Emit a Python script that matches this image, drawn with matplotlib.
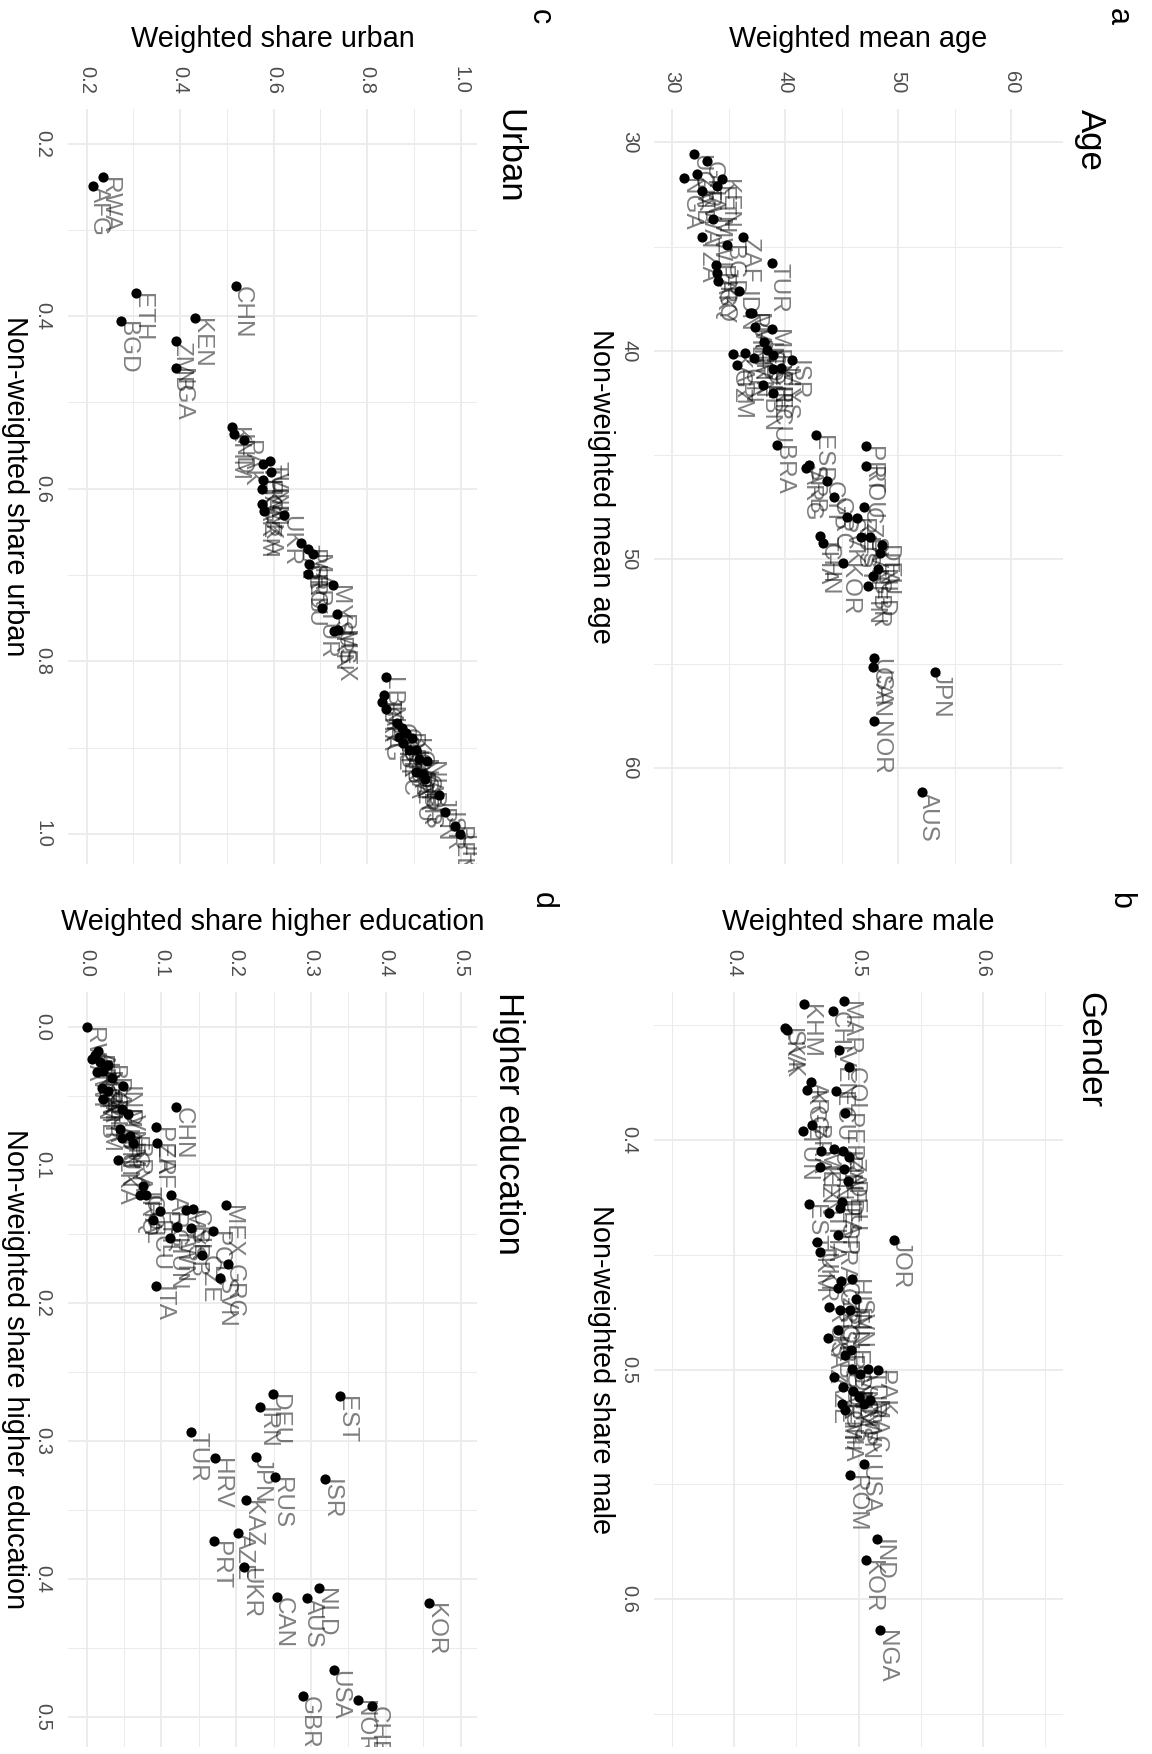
import numpy as np
import matplotlib
matplotlib.use("Agg")
import matplotlib.pyplot as plt
from matplotlib import ticker

plt.rcParams['font.family'] = ['Liberation Sans', 'DejaVu Sans']

# ---- data (weighted = horizontal, non-weighted = vertical)
age_codes = ['UGA', 'GHA', 'NGA', 'ZMB', 'KEN', 'ETH', 'RWA', 'MWI', 'TZA', 'ZAF',
             'BGD', 'PAK', 'EGY', 'IRQ', 'IDN', 'TUR', 'PHL', 'MAR', 'VNM', 'MEX',
             'IND', 'COL', 'PER', 'KGZ', 'TUN', 'IRN', 'ARM', 'ISR', 'CHL', 'MYS',
             'LBN', 'ECU', 'BRA', 'ESP', 'SRB', 'ARG', 'CYP', 'GRC', 'SVK', 'RUS',
             'PRT', 'ROU', 'CZE', 'THA', 'CHN', 'EST', 'SVN', 'DEU', 'ITA', 'KOR',
             'NLD', 'GBR', 'FIN', 'USA', 'CAN', 'NOR', 'JPN', 'AUS']
age_weighted = [31.95, 33.07, 31.09, 32.18, 34.4, 34.0, 32.68, 33.66, 32.63, 36.31,
                34.84, 33.89, 33.95, 34.04, 35.96, 38.88, 36.9, 37.1, 37.37, 38.88,
                38.14, 38.38, 38.97, 35.37, 36.49, 37.26, 35.72, 40.59, 38.97, 39.6,
                38.02, 38.97, 39.26, 42.74, 42.15, 41.86, 43.69, 44.37, 45.46, 46.34,
                47.14, 47.14, 47.02, 43.1, 43.33, 46.73, 47.5, 48.55, 48.4, 45.16,
                48.26, 47.76, 47.37, 47.9, 47.82, 47.9, 53.27, 52.1]
age_plain = [30.56, 30.91, 31.71, 31.52, 31.76, 32.08, 32.32, 33.68, 34.54, 34.54,
             34.93, 35.9, 36.27, 36.64, 37.14, 35.79, 38.16, 38.2, 38.86, 38.94,
             39.55, 39.95, 40.19, 40.14, 40.11, 40.34, 40.69, 40.43, 40.88, 40.83,
             41.63, 42.03, 44.51, 44.03, 45.47, 45.63, 46.22, 47.02, 47.95, 48.03,
             44.56, 45.5, 47.47, 48.88, 49.2, 48.94, 48.94, 49.31, 49.68, 50.16,
             50.44, 50.8, 51.28, 54.7, 55.15, 57.76, 55.4, 61.15]

male_codes = ['KHM', 'LKA', 'SVK', 'MAR', 'CHL', 'VEN', 'COL', 'ARG', 'KGZ', 'ECU',
              'PER', 'BRA', 'TUN', 'MEX', 'CHN', 'IRN', 'ZAF', 'KEN', 'NLD', 'DEU',
              'ITA', 'ESP', 'EST', 'THA', 'FRA', 'TKM', 'UKR', 'JOR', 'HUN', 'CZE',
              'GRC', 'SVN', 'RUS', 'POL', 'FIN', 'SRB', 'KAZ', 'BGD', 'EGY', 'IDN',
              'VNM', 'TUR', 'PAK', 'AZE', 'ARM', 'MYS', 'ETH', 'GHA', 'CYP', 'MAC',
              'TWN', 'USA', 'ROM', 'IND', 'KOR', 'NGA']
male_weighted = [0.4559, 0.4412, 0.4426, 0.4885, 0.4794, 0.4845, 0.492, 0.4617, 0.4585, 0.4822,
                 0.4894, 0.4626, 0.4551, 0.4698, 0.4805, 0.4874, 0.492, 0.4692, 0.488, 0.4912,
                 0.4867, 0.4853, 0.4599, 0.4759, 0.4832, 0.4666, 0.4687, 0.5287, 0.4946, 0.486,
                 0.4839, 0.4982, 0.476, 0.4853, 0.4933, 0.4832, 0.4752, 0.4893, 0.4939, 0.4947,
                 0.5014, 0.508, 0.5153, 0.4805, 0.4879, 0.4959, 0.4866, 0.4893, 0.5, 0.5094,
                 0.5041, 0.5041, 0.4933, 0.5147, 0.5059, 0.5174]
male_plain = [0.3407, 0.3512, 0.352, 0.3396, 0.3439, 0.3609, 0.3682, 0.3749, 0.3781, 0.3785,
              0.3884, 0.3935, 0.396, 0.4047, 0.404, 0.405, 0.4073, 0.4118, 0.4126, 0.4177,
              0.4269, 0.4298, 0.428, 0.432, 0.4415, 0.4444, 0.4488, 0.4434, 0.4604, 0.4614,
              0.4647, 0.4691, 0.4728, 0.4742, 0.4742, 0.4829, 0.4863, 0.4938, 0.4916, 0.4996,
              0.5018, 0.4996, 0.5, 0.5033, 0.5077, 0.5092, 0.515, 0.5176, 0.512, 0.5132,
              0.515, 0.5412, 0.5458, 0.574, 0.5828, 0.6134]

urban_codes = ['RWA', 'AFG', 'ETH', 'BGD', 'CHN', 'KEN', 'ZMB', 'NGA', 'KHM', 'IND',
               'PAK', 'THA', 'TUN', 'VNM', 'EGY', 'KGZ', 'ARM', 'LKA', 'UKR', 'ZAF',
               'PHL', 'MAR', 'SRB', 'ROU', 'MYS', 'TUR', 'RUS', 'IRN', 'MEX', 'LBN',
               'JOR', 'BRA', 'ARG', 'CHL', 'COL', 'PER', 'ESP', 'GRC', 'KOR', 'USA',
               'CAN', 'NOR', 'NLD', 'DEU', 'GBR', 'AUS', 'JPN', 'ISR', 'BEL', 'URY']
urban_weighted = [0.2354, 0.2142, 0.3065, 0.2724, 0.5198, 0.4323, 0.3903, 0.3903, 0.511, 0.516,
                  0.5375, 0.5781, 0.5923, 0.5944, 0.5767, 0.5753, 0.576, 0.5802, 0.6214, 0.6583,
                  0.6725, 0.6832, 0.676, 0.6725, 0.7272, 0.7031, 0.7365, 0.7294, 0.7386, 0.841,
                  0.836, 0.8325, 0.8396, 0.8645, 0.8751, 0.8822, 0.868, 0.8766, 0.8965, 0.8894,
                  0.9036, 0.9107, 0.9285, 0.9036, 0.919, 0.9248, 0.9534, 0.9676, 0.9875, 0.9995]
urban_plain = [0.2388, 0.2492, 0.3734, 0.4056, 0.365, 0.402, 0.4285, 0.46, 0.5286, 0.5364,
               0.5441, 0.5713, 0.5674, 0.5802, 0.5895, 0.6, 0.6179, 0.6257, 0.6307, 0.6625,
               0.6702, 0.6761, 0.6877, 0.6993, 0.7111, 0.7383, 0.7449, 0.7654, 0.7635, 0.8185,
               0.8391, 0.8469, 0.8558, 0.872, 0.8778, 0.8836, 0.8875, 0.8953, 0.8895, 0.9031,
               0.9031, 0.9128, 0.9155, 0.9283, 0.9302, 0.9361, 0.9555, 0.9749, 0.9904, 1.0001]

edu_codes = ['RWA', 'AFG', 'ETH', 'MWI', 'UGA', 'BGD', 'NGA', 'KEN', 'PAK', 'ZMB',
             'IND', 'GHA', 'KHM', 'MAR', 'VNM', 'IDN', 'EGY', 'BRA', 'TUN', 'LKA',
             'CHN', 'PER', 'ZAF', 'THA', 'IRQ', 'COL', 'ARG', 'PHL', 'ECU', 'MYS',
             'CHL', 'TWN', 'SRB', 'HUN', 'POL', 'MEX', 'CZE', 'GRC', 'SVN', 'ITA',
             'DEU', 'IRN', 'EST', 'TUR', 'HRV', 'JPN', 'RUS', 'ISR', 'KAZ', 'AZE',
             'PRT', 'UKR', 'CAN', 'NLD', 'AUS', 'KOR', 'USA', 'GBR', 'NOR', 'CHE']
edu_weighted = [0.001, 0.0155, 0.0111, 0.0066, 0.0177, 0.0289, 0.0222, 0.0133, 0.0333, 0.02,
                0.0488, 0.0289, 0.0222, 0.0466, 0.0555, 0.0444, 0.0577, 0.0622, 0.0466, 0.0422,
                0.12, 0.0924, 0.0946, 0.0755, 0.071, 0.079, 0.1124, 0.0986, 0.0888, 0.1324,
                0.1422, 0.1208, 0.1399, 0.111, 0.1688, 0.1866, 0.1546, 0.1888, 0.1777, 0.0933,
                0.2497, 0.2324, 0.3386, 0.1399, 0.171, 0.2266, 0.2524, 0.3186, 0.2124, 0.2022,
                0.1702, 0.2102, 0.2542, 0.3111, 0.2946, 0.4577, 0.3302, 0.2889, 0.3635, 0.3813]
edu_plain = [0.0, 0.0175, 0.021, 0.0235, 0.026, 0.0277, 0.032, 0.0333, 0.0374, 0.0442,
             0.043, 0.0466, 0.0527, 0.0599, 0.0636, 0.0745, 0.0794, 0.0842, 0.0806, 0.0964,
             0.0583, 0.0729, 0.0842, 0.1158, 0.1219, 0.1223, 0.1219, 0.1335, 0.1401, 0.1328,
             0.1321, 0.145, 0.1462, 0.1535, 0.1481, 0.1296, 0.1656, 0.1724, 0.1821, 0.1882,
             0.2663, 0.276, 0.2676, 0.2935, 0.3125, 0.3117, 0.3265, 0.3275, 0.3428, 0.3666,
             0.3727, 0.3918, 0.4132, 0.4066, 0.4144, 0.4176, 0.4661, 0.4853, 0.488, 0.4921]

W, H = 1152, 1754


def fpos(x, y):
    # pixel position (from top-left) -> figure fraction
    return x / W, 1 - y / H


def draw_panel(fig, box, lims, major, minor, fmt, codes, wvals, nvals,
               title, letter, xlabel, ylabel, title_x, letter_xy):
    left, top, right, bottom = box
    x0, y0 = fpos(left, bottom)
    ax = fig.add_axes([x0, y0, (right - left) / W, (bottom - top) / H])
    ax.set_xlim(lims)
    ax.set_ylim(lims[1], lims[0])  # non-weighted runs downward

    ax.set_xticks(major)
    ax.set_yticks(major)
    ax.set_xticks(minor, minor=True)
    ax.set_yticks(minor, minor=True)
    ax.xaxis.set_major_formatter(ticker.FormatStrFormatter(fmt))
    ax.yaxis.set_major_formatter(ticker.FormatStrFormatter(fmt))
    ax.xaxis.tick_top()
    ax.tick_params(which='both', length=0, labelsize=14.5, labelcolor='#4D4D4D', pad=11)
    ax.tick_params(axis='x', labelrotation=-90)
    ax.tick_params(axis='y', labelrotation=-90)
    for lab in ax.get_yticklabels():
        lab.set_va('center')

    ax.grid(which='major', color='#EBEBEB', lw=1.3)
    ax.grid(which='minor', color='#EBEBEB', lw=0.7)
    ax.set_axisbelow(True)
    for s in ax.spines.values():
        s.set_visible(False)

    ax.scatter(wvals, nvals, s=54, c='black', linewidths=0, zorder=3)
    for c, w, n in zip(codes, wvals, nvals):
        ax.text(w, n, c, rotation=-90, rotation_mode='anchor', ha='left',
                va='baseline', fontsize=17.5, color='black', alpha=0.5,
                clip_on=True, zorder=4)

    cx = (left + right) / 2
    cy = (top + bottom) / 2
    fig.text(*fpos(cx, top - 70), xlabel, fontsize=20.8, ha='center', va='center')
    fig.text(*fpos(left - 53, cy), ylabel, fontsize=20.8, rotation=-90,
             ha='center', va='center')
    fig.text(*fpos(title_x, top), title, fontsize=25, rotation=-90,
             rotation_mode='anchor', ha='left', va='center')
    fig.text(*fpos(*letter_xy), letter, fontsize=22, rotation=-90,
             ha='center', va='center')
    return ax


fig = plt.figure(figsize=(W / 100, H / 100), dpi=100)

draw_panel(fig, (654, 109, 1063, 864), (28.4, 64.6),
           [30, 40, 50, 60], [35, 45, 55], '%d',
           age_codes, age_weighted, age_plain,
           'Age', 'a', 'Weighted mean age', 'Non-weighted mean age',
           1090, (1118, 17))

draw_panel(fig, (654, 992, 1063, 1747), (0.3355, 0.6645),
           [0.4, 0.5, 0.6], [0.35, 0.45, 0.55, 0.65], '%.1f',
           male_codes, male_weighted, male_plain,
           'Gender', 'b', 'Weighted share male', 'Non-weighted share male',
           1090, (1120, 900))

draw_panel(fig, (68, 109, 477, 864), (0.16, 1.035),
           [0.2, 0.4, 0.6, 0.8, 1.0], [0.3, 0.5, 0.7, 0.9], '%.1f',
           urban_codes, urban_weighted, urban_plain,
           'Urban', 'c', 'Weighted share urban', 'Non-weighted share urban',
           509, (540, 17))

draw_panel(fig, (68, 992, 477, 1747), (-0.025, 0.522),
           [0.0, 0.1, 0.2, 0.3, 0.4, 0.5],
           [0.05, 0.15, 0.25, 0.35, 0.45], '%.1f',
           edu_codes, edu_weighted, edu_plain,
           'Higher education', 'd', 'Weighted share higher education',
           'Non-weighted share higher education',
           509, (543, 900))

fig.savefig('out.png', dpi=100)
